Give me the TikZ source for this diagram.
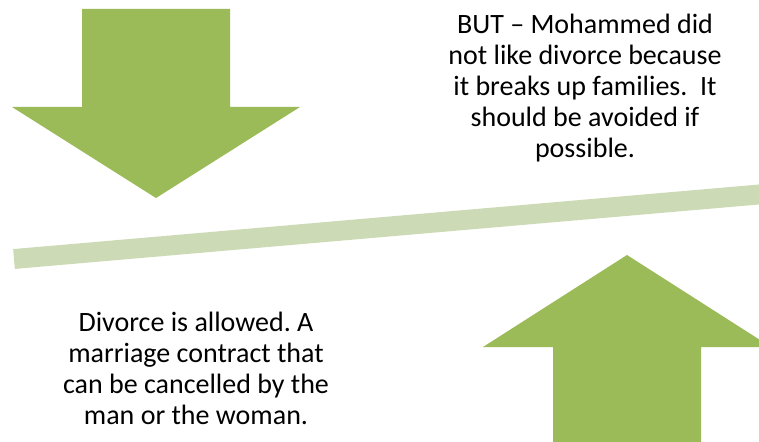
\documentclass[tikz,border=0pt]{standalone}
\usepackage{fontspec}
\setmainfont{Carlito}
\usetikzlibrary{positioning}
\definecolor{olivegreen}{HTML}{9BBB59}
\definecolor{palegreen}{HTML}{CCDAB5}

\begin{document}
\frenchspacing
\begin{tikzpicture}[x=1pt, y=-1pt,
    saying/.style={align=center, inner sep=0pt, font=\fontsize{28}{31}\selectfont}]

  \useasboundingbox (0, 0) rectangle (759, 441);
  \clip (0, 0) rectangle (759, 441);

  % arrow pointing down
  \fill[olivegreen] (82, 9) -- (230, 9) -- (230, 107) -- (300, 107)
    -- (156, 198) -- (12, 107) -- (82, 107) -- cycle;

  % arrow pointing up
  \fill[olivegreen] (553, 445) -- (553, 347) -- (483, 347) -- (627, 255)
    -- (771, 347) -- (701, 347) -- (701, 445) -- cycle;

  % the balance bar
  \coordinate (barleft) at (14, 259);
  \coordinate (barright) at (790, 191.8);
  \draw[palegreen, line width=19.9pt] (barleft) -- (barright);

  \node[saying] (but) at (585, 88)
    {BUT -- Mohammed did\\ not like divorce because\\ it breaks up families.\ \ It\\ should be avoided if\\ possible.};

  \node[saying] (allowed) at (196, 368)
    {Divorce is allowed. A\\ marriage contract that\\ can be cancelled by the\\ man or the woman.};

\end{tikzpicture}
\end{document}
